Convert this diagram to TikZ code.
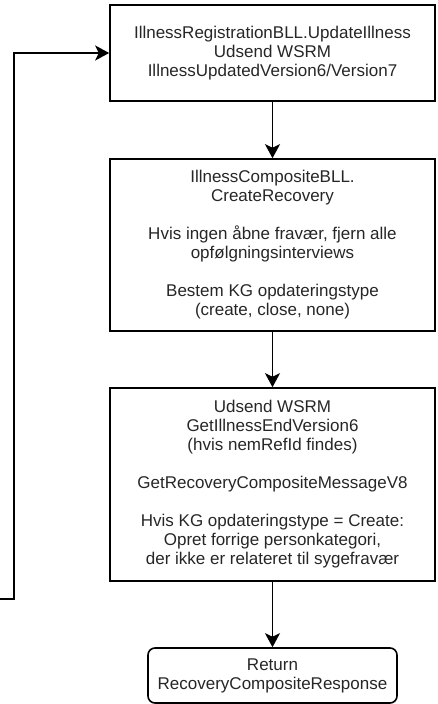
\documentclass[tikz,border=0pt]{standalone}
\usepackage{fontspec}
\setmainfont{Liberation Sans}
\usepackage{tikz}
\usetikzlibrary{arrows.meta,positioning}

\begin{document}
\begin{tikzpicture}[x=1pt,y=-1pt,line width=1.6pt,
    box/.style={rectangle,draw,minimum width=325pt,align=center,inner sep=0pt,
      font=\fontsize{17}{19}\selectfont,text=black!85},
    retbox/.style={box,rounded corners=7pt,minimum width=249pt,minimum height=55pt},
    flow/.style={-{Stealth[length=14pt,width=15pt,inset=3.5pt]}}]
    % \draw[help lines] (0,0) grid (437,704);
    \useasboundingbox (0,0) rectangle (437,704);
    \node[box,minimum height=96pt]  (upd) at (272.5,53)    {IllnessRegistrationBLL.UpdateIllness\\Udsend WSRM\\IllnessUpdatedVersion6/Version7};
    \node[box,minimum height=172pt] (crt) at (272.5,245)   {IllnessCompositeBLL.\\CreateRecovery\\[19pt]Hvis ingen åbne fravær, fjern alle\\opfølgningsinterviews\\[19pt]Bestem KG opdateringstype\\(create, close, none)};
    \node[box,minimum height=193pt] (snd) at (272.5,484.5) {Udsend WSRM\\GetIllnessEndVersion6\\(hvis nemRefId findes)\\[19pt]GetRecoveryCompositeMessageV8\\[19pt]Hvis KG opdateringstype = Create:\\Opret forrige personkategori,\\der ikke er relateret til sygefravær};
    \node[retbox]                   (ret) at (272.5,675.5) {Return\\RecoveryCompositeResponse};
    \coordinate (in)   at (0,599);
    \coordinate (bend) at (14,599);
    \path[flow]
    (upd) edge (crt)
    (crt) edge (snd)
    (snd) edge (ret);
    \draw[flow] (in) -- (bend) |- (upd);
  \end{tikzpicture}
\end{document}
